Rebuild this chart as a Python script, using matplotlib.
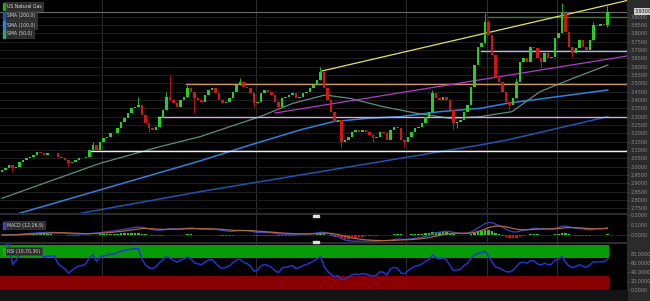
import numpy as np
import pandas as pd
import matplotlib
matplotlib.use("Agg")
import matplotlib.pyplot as plt
from matplotlib.patches import Rectangle

# ---- data ----
dates = pd.bdate_range("2013-07-23", periods=179)   # 174 candles + a few future slots

closes = [2.98, 2.99, 3.01, 2.99, 3.00, 3.03, 3.04, 3.05, 3.06, 3.07,
          3.09, 3.08, 3.07, 3.08, 3.08, 3.08, 3.06, 3.05, 3.04, 3.02,
          3.03, 3.04, 3.05, 3.05, 3.06, 3.10, 3.13, 3.10, 3.15, 3.17,
          3.18, 3.20, 3.20, 3.23, 3.27, 3.29, 3.32, 3.35, 3.36, 3.37,
          3.31, 3.26, 3.23, 3.22, 3.24, 3.29, 3.34, 3.42, 3.40, 3.38,
          3.36, 3.40, 3.42, 3.47, 3.45, 3.41, 3.40, 3.39, 3.43, 3.46,
          3.47, 3.44, 3.40, 3.38, 3.39, 3.41, 3.45, 3.49, 3.51, 3.48,
          3.47, 3.44, 3.38, 3.39, 3.44, 3.46, 3.45, 3.43, 3.39, 3.36,
          3.41, 3.42, 3.43, 3.44, 3.41, 3.42, 3.44, 3.45, 3.47, 3.49,
          3.52, 3.57, 3.47, 3.40, 3.33, 3.27, 3.28, 3.15, 3.16, 3.18,
          3.21, 3.22, 3.21, 3.22, 3.21, 3.19, 3.17, 3.18, 3.21, 3.20,
          3.16, 3.22, 3.24, 3.23, 3.16, 3.15, 3.18, 3.21, 3.23, 3.24,
          3.26, 3.30, 3.33, 3.44, 3.41, 3.40, 3.42, 3.40, 3.34, 3.26,
          3.27, 3.28, 3.33, 3.37, 3.48, 3.61, 3.72, 3.74, 3.87, 3.79,
          3.67, 3.53, 3.51, 3.45, 3.39, 3.37, 3.41, 3.51, 3.63, 3.65,
          3.63, 3.72, 3.71, 3.65, 3.63, 3.68, 3.65, 3.66, 3.77, 3.80,
          3.92, 3.81, 3.72, 3.68, 3.71, 3.76, 3.72, 3.70, 3.76, 3.85,
          3.845, 3.855, 3.85, 3.93]
opens = [2.97] + closes[:-1]   # each day opens at the previous close

# visible wicks
wick_highs = {26: 3.15, 39: 3.42, 47: 3.45, 48: 3.55, 53: 3.49, 68: 3.53,
              91: 3.60, 123: 3.46, 138: 3.92, 139: 3.88, 147: 3.53,
              160: 3.98, 169: 3.87, 173: 3.97}
wick_lows = {3: 2.97, 19: 3.00, 42: 3.21, 55: 3.32, 72: 3.36, 79: 3.34,
             97: 3.11, 106: 3.15, 115: 3.12, 129: 3.22, 130: 3.23,
             145: 3.34, 154: 3.59, 163: 3.66, 173: 3.84}

# moving averages (points along the drawn curves)
sma50_idx = [0, 14.6, 28, 45.1, 56.6, 65.1, 73.7, 83.1, 92.3, 99.4, 108.9,
             118.6, 128, 136.6, 145.7, 153.7, 163.1, 173.1]
sma50_val = [2.81, 2.92, 3.02, 3.12, 3.18, 3.24, 3.30, 3.38, 3.43, 3.41,
             3.36, 3.32, 3.29, 3.30, 3.33, 3.45, 3.53, 3.61]
sma100_idx = [0, 39.4, 50.9, 57.4, 70.9, 85.1, 94.6, 104.3, 113.7, 125.1,
              136.6, 144.3, 173.1]
sma100_val = [2.69, 2.93, 3.00, 3.04, 3.13, 3.22, 3.27, 3.29, 3.30, 3.33,
              3.35, 3.38, 3.46]
sma200_idx = [22.3, 56.6, 90.9, 110.9, 136.6, 144.3, 173.1]
sma200_val = [2.72, 2.85, 2.97, 3.04, 3.13, 3.16, 3.30]

# support / resistance levels: (price, start index, colour)
levels = [(3.094, 26, "#f0f0f0"), (3.298, 45, "#d9a8e6"),
          (3.496, 53, "#c8946a"), (3.694, 137.4, "#b4b4f0"),
          (3.898, 139.4, "#3f7a2c")]
# trend lines: (x0, y0, x1, y1, colour)
trends = [(91.4, 3.574, 178.6, 3.997, "#e6e05a"),
          (78.0, 3.322, 178.6, 3.664, "#b03cc8")]

# ---- indicators ----
s = pd.Series(closes)
macd = s.ewm(span=12, adjust=False).mean() - s.ewm(span=26, adjust=False).mean()
signal = macd.ewm(span=9, adjust=False).mean()
hist = macd - signal

delta = s.diff()
gain = delta.clip(lower=0).ewm(alpha=1 / 10, adjust=True, ignore_na=True).mean()
loss = (-delta.clip(upper=0)).ewm(alpha=1 / 10, adjust=True, ignore_na=True).mean()
rsi = 100 - 100 / (1 + gain / loss.replace(0, 1e-9))

# ---- figure ----
W, H = 650, 301
fig = plt.figure(figsize=(W / 100, H / 100), dpi=100, facecolor="#2b2b2b")
n = len(closes)
idx = np.arange(n)
xl = (-2 / 3.5, (627 - 2) / 3.5)
grid_c = "#1e1e1e"
txt_c = "#8c8c8c"
fs = 3.5


def px(x, y, w, h):
    return [x / W, 1 - (y + h) / H, w / W, h / H]


ax = fig.add_axes(px(0, 0, 627, 213), facecolor="black")
ax_m = fig.add_axes(px(0, 215, 627, 27), facecolor="black", sharex=ax)
ax_r = fig.add_axes(px(0, 244, 627, 46), facecolor="black", sharex=ax)
fig.patches.append(Rectangle((0, 0), 627 / W, 11 / H, transform=fig.transFigure,
                             color="#141414", zorder=0))

month_lines = [i for i in range(1, n) if dates[i].month != dates[i - 1].month
               and dates[i].month in (9, 11, 1, 2, 3)]

for a in (ax, ax_m, ax_r):
    for sp in a.spines.values():
        sp.set_visible(False)
    a.yaxis.tick_right()
    a.tick_params(axis="y", colors="#555555", labelcolor=txt_c, labelsize=fs,
                  length=1.5, width=0.5, pad=1)
    for m in month_lines:
        a.axvline(m - 0.5, color="#2c2c2c", lw=0.8, zorder=0)
ax.set_xlim(*xl)

# main price panel
ax.set_ylim(4.0 - 213 * 0.006, 4.0)
pt = np.arange(2.75, 3.901, 0.05)
ax.set_yticks(pt)
ax.set_yticklabels(["%.4f" % v for v in pt])
for v in pt:
    ax.axhline(v, color=grid_c, lw=0.7, zorder=0)
ax.tick_params(axis="x", bottom=False, labelbottom=False)

ax.plot(sma200_idx, sma200_val, color="#1f55b0", lw=1.1, zorder=2)
ax.plot(sma100_idx, sma100_val, color="#2f82dc", lw=1.1, zorder=2)
ax.plot(sma50_idx, sma50_val, color="#5c8f80", lw=0.9, zorder=2)

for price, start, col in levels:
    ax.plot([start - 0.5, xl[1]], [price, price], color=col, lw=1.0, zorder=2)
for x0, y0, x1, y1, col in trends:
    ax.plot([x0, x1], [y0, y1], color=col, lw=0.9, zorder=2)
ax.axhline(closes[-1], color="#6a6a6a", lw=0.8, zorder=1)

for i in range(n):
    o, c = opens[i], closes[i]
    col = "#25d025" if c >= o else "#d41515"
    lo, hi = min(o, c), max(o, c)
    top = wick_highs.get(i, hi)
    bot = wick_lows.get(i, lo)
    if top > hi or bot < lo:
        ax.vlines(i, bot, top, color=col, lw=0.6, zorder=3)
    ax.add_patch(Rectangle((i - 0.38, lo), 0.76, max(hi - lo, 0.004),
                           facecolor=col, edgecolor="none", zorder=4))

ax.text(1.012, closes[-1], "%.4f" % closes[-1], transform=ax.get_yaxis_transform(),
        fontsize=fs, color="#111111", va="center", ha="left", clip_on=False,
        bbox=dict(boxstyle="square,pad=0.15", fc="#d0d0d0", ec="none"))

# MACD panel
ax_m.set_ylim(-0.07, 0.20)
ax_m.set_yticks([0.0, 0.1, 0.2])
ax_m.set_yticklabels(["0.0000", "0.1000", "0.2000"])
ax_m.axhline(0, color=grid_c, lw=0.7, zorder=0)
ax_m.bar(idx, hist, width=0.7, color=np.where(hist >= 0, "#28c828", "#cc1414"),
         zorder=2)
ax_m.plot(idx, macd, color="#3a44c4", lw=0.9, zorder=3)
ax_m.plot(idx, signal, color="#b06848", lw=0.9, zorder=3)
ax_m.tick_params(axis="x", bottom=False, labelbottom=False)

# RSI panel
ax_r.set_ylim(0, 102)
ax_r.set_yticks([0, 20, 40, 60, 80])
ax_r.set_yticklabels(["0.0000", "20.0000", "40.0000", "60.0000", "80.0000"])
ax_r.fill_between([-0.5, n - 0.5], 70, 100, color="#079b07", lw=0, zorder=1)
ax_r.fill_between([-0.5, n - 0.5], 0, 30, color="#8a0000", lw=0, zorder=1)
ax_r.plot(idx, rsi, color="#2233d0", lw=1.1, zorder=3)

ticks, labels = [], []
starts = [i for i in range(1, len(dates)) if dates[i].month != dates[i - 1].month]
for i in range(len(dates)):
    if i in starts:
        ticks.append(i)
        labels.append(dates[i].strftime("%b"))
    elif i % 3 == 0 and all(abs(i - s0) > 2 for s0 in starts):
        ticks.append(i)
        labels.append(str(dates[i].day))
ax_r.set_xticks(ticks)
ax_r.set_xticklabels(labels)
ax_r.tick_params(axis="x", colors="#444444", labelcolor=txt_c, labelsize=fs,
                 length=0, pad=3)

# panel splitter handles
for yy in (216, 242):
    fig.patches.append(Rectangle((313 / W, 1 - (yy + 1) / H), 6 / W, 2 / H,
                                 transform=fig.transFigure, color="#e0e0e0", zorder=6))


# legend boxes
def tag(x, y, text, bar):
    fig.text((x + 4) / W, 1 - y / H, text, fontsize=3.3, color="#d8d8d8",
             va="center", ha="left",
             bbox=dict(boxstyle="square,pad=0.35", fc="#2c2c2c", ec="#4a4a4a", lw=0.4))
    fig.patches.append(Rectangle((x / W, 1 - (y + 3.5) / H), 1.6 / W, 7 / H,
                                 transform=fig.transFigure, color=bar, zorder=5))


tag(3, 6.5, "US Natural Gas", "#2aa02a")
tag(3, 16, "SMA (200,0)", "#1f55b0")
tag(3, 25, "SMA (100,0)", "#2f82dc")
tag(3, 34, "SMA (50,0)", "#3f9a80")
tag(3, 225, "MACD (12,26,9)", "#3a44c4")
tag(3, 251, "RSI (10,70,30)", "#2aa02a")

fig.savefig("out.png", dpi=100, facecolor=fig.get_facecolor())
